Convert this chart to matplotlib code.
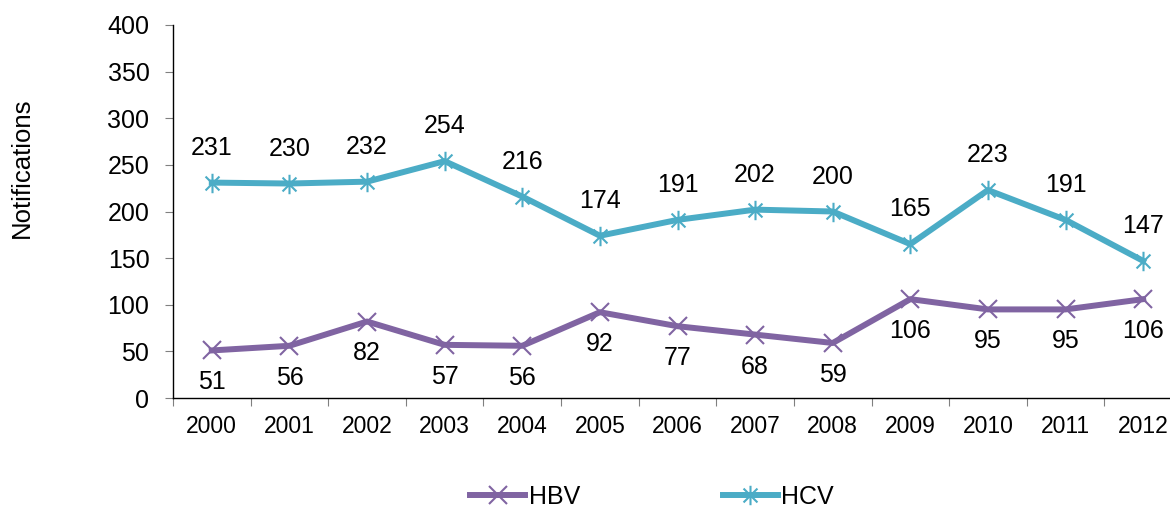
import matplotlib
matplotlib.use('Agg')
import matplotlib.pyplot as plt
from matplotlib.path import Path

years = ['2000', '2001', '2002', '2003', '2004', '2005', '2006',
         '2007', '2008', '2009', '2010', '2011', '2012']
hbv = [51, 56, 82, 57, 56, 92, 77, 68, 59, 106, 95, 95, 106]
hcv = [231, 230, 232, 254, 216, 174, 191, 202, 200, 165, 223, 191, 147]

plt.rcParams['font.family'] = ['Liberation Sans', 'DejaVu Sans']

# excel style star: an x with a vertical bar
star = Path([(-1, -1), (1, 1), (-1, 1), (1, -1), (0, -1.4), (0, 1.4)],
            [Path.MOVETO, Path.LINETO, Path.MOVETO, Path.LINETO, Path.MOVETO, Path.LINETO])

fig = plt.figure(figsize=(11.7, 5.17), dpi=100)
ax = fig.add_axes([173 / 1170, 1 - 398 / 517, 1009 / 1170, 373 / 517])

x = list(range(len(years)))
ax.plot(x, hbv, color='#8064A2', lw=4.3, marker='x', ms=13, mew=1.5, label='HBV')
ax.plot(x, hcv, color='#4BACC6', lw=4.3, marker=star, ms=14, mew=1.5, label='HCV')

for i in x:
    ax.annotate(str(hbv[i]), (i, hbv[i]), xytext=(0, -23), textcoords='offset points',
                ha='center', va='center', fontsize=18)
    ax.annotate(str(hcv[i]), (i, hcv[i]), xytext=(0, 25), textcoords='offset points',
                ha='center', va='center', fontsize=18)

ax.set_xlim(-0.5, len(years) - 0.5)
ax.set_ylim(0, 400)
ax.set_yticks(range(0, 401, 50))
ax.set_xticks([i - 0.5 for i in x])
ax.set_xticklabels([])
ax.set_xticks(x, minor=True)
ax.set_xticklabels(years, minor=True, fontsize=16.5)
ax.tick_params(axis='x', which='minor', length=0, pad=12)
ax.tick_params(axis='x', which='major', length=6, color='#808080')
ax.tick_params(axis='y', length=6, color='#808080', labelsize=18, pad=11)

for s in ['top', 'right']:
    ax.spines[s].set_visible(False)
ax.spines['left'].set_linewidth(1)
ax.spines['bottom'].set_linewidth(1)

fig.text(22 / 1170, 1 - 168 / 517, 'Notifications', rotation=90,
         ha='center', va='center', fontsize=18.5)

fig.legend(loc='center', bbox_to_anchor=(652 / 1170, 1 - 497 / 517), ncol=2,
           frameon=False, fontsize=18, handlelength=2.2, columnspacing=5.7,
           handletextpad=0.15)

fig.savefig('out.png', dpi=100)
